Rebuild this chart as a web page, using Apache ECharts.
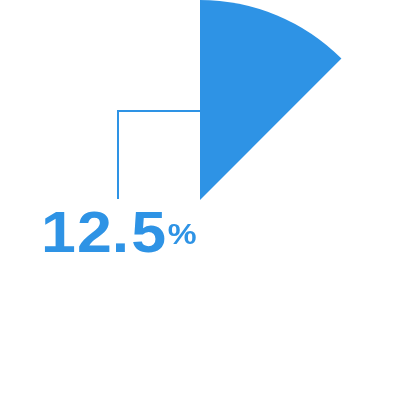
<!DOCTYPE html>
<html lang="en">
<head>
    <meta charset="UTF-8">
    <title>Pie</title>
    <script src="https://cdn.jsdelivr.net/npm/echarts@6/dist/echarts.min.js"></script>
    <style>
        * {
            margin: 0;
            padding: 0
        }

        html, body {
            width: 100%;
            height: 100%;
            background: #fff;
        }

        #main {
            width: 400px;
            height: 400px;
        }
    </style>
</head>
<body>
<div id="main"></div>
<script type="text/javascript">
    var names = ['占比', '其他'];
    var values = [12.5, 87.5];
    var blue = '#2e93e5';

    var total = values[0] + values[1];
    var percent = (values[0] / total * 100).toFixed(1);

    // 每个字符单独一格, 拉开字距
    var digitStyle = {
        fontSize: 58,
        fontWeight: 'bold',
        fontFamily: 'Arial',
        fill: blue,
        lineHeight: 70,
        align: 'center'
    };
    var boxWidths = [38.5, 28, 20.2, 32];
    var rich = {
        pct: {
            fontSize: 30,
            fontWeight: 'bold',
            fontFamily: 'Arial',
            fill: blue,
            lineHeight: 70,
            width: 30,
            align: 'left'
        }
    };
    var parts = percent.split('').map(function (c, i) {
        var key = 'c' + i;
        rich[key] = Object.assign({width: boxWidths[i] || 32}, digitStyle);
        return '{' + key + '|' + c + '}';
    });
    var labelText = parts.join('') + '{pct|%}';

    var myChart = echarts.init(document.getElementById('main'));
    myChart.setOption({
        animation: false,
        graphic: [
            {
                // 指引线
                type: 'polyline',
                shape: {
                    points: [[200, 111], [118, 111], [118, 199]]
                },
                style: {
                    stroke: blue,
                    lineWidth: 2,
                    fill: null
                }
            },
            {
                type: 'text',
                x: 37.7,
                y: 201,
                scaleX: 1.08,
                style: {
                    text: labelText,
                    rich: rich
                }
            }
        ],
        series: [
            {
                type: 'pie',
                radius: ['0%', '100%'],
                center: ['50%', '50%'],
                startAngle: 90,
                clockwise: true,
                silent: true,
                label: {show: false},
                labelLine: {show: false},
                data: [
                    {value: values[0], name: names[0], itemStyle: {color: blue}},
                    {value: values[1], name: names[1], itemStyle: {color: 'rgba(0,0,0,0)'}}
                ]
            }
        ]
    });
</script>
</body>
</html>
